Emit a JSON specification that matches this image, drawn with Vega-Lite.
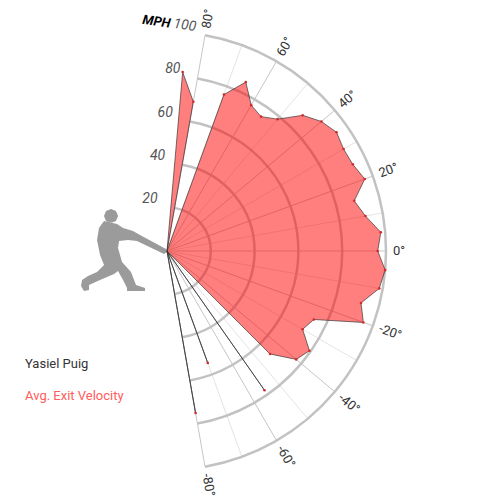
{
  "$schema": "https://vega.github.io/schema/vega-lite/v6.json",
  "width": 500,
  "height": 500,
  "autosize": {"type": "none"},
  "padding": 0,
  "config": {"view": {"stroke": null}, "font": "Roboto"},
  "datasets": {
    "ev": [
      {"deg": 90, "mph": 0}, {"deg": 85, "mph": 82}, {"deg": 80, "mph": 69.2},
      {"deg": 75, "mph": 0}, {"deg": 70, "mph": 76}, {"deg": 65, "mph": 85.1},
      {"deg": 60, "mph": 76.9}, {"deg": 55, "mph": 74.9}, {"deg": 50, "mph": 78.6},
      {"deg": 45, "mph": 87.6}, {"deg": 40, "mph": 92}, {"deg": 35, "mph": 94.5},
      {"deg": 30, "mph": 93.1}, {"deg": 25, "mph": 93.6}, {"deg": 20, "mph": 96.1},
      {"deg": 15, "mph": 88.5}, {"deg": 10, "mph": 92}, {"deg": 5, "mph": 98},
      {"deg": 0, "mph": 96.2}, {"deg": -5, "mph": 100}, {"deg": -10, "mph": 98.4},
      {"deg": -15, "mph": 91.7}, {"deg": -20, "mph": 95.4}, {"deg": -25, "mph": 74},
      {"deg": -30, "mph": 71.5}, {"deg": -35, "mph": 79.4}, {"deg": -40, "mph": 77},
      {"deg": -45, "mph": 66.5}, {"deg": -50, "mph": 0}, {"deg": -55, "mph": 77.6},
      {"deg": -60, "mph": 0}, {"deg": -65, "mph": 0}, {"deg": -70, "mph": 54.4},
      {"deg": -75, "mph": 0}, {"deg": -80, "mph": 75.1}, {"deg": -85, "mph": 0},
      {"deg": -90, "mph": 0}
    ],
    "rings": [{"mph": 20}, {"mph": 40}, {"mph": 60}, {"mph": 80}, {"mph": 100}],
    "spokes": [
      {"deg": -80}, {"deg": -70}, {"deg": -60}, {"deg": -50}, {"deg": -40},
      {"deg": -30}, {"deg": -20}, {"deg": -10}, {"deg": 0}, {"deg": 10},
      {"deg": 20}, {"deg": 30}, {"deg": 40}, {"deg": 50}, {"deg": 60},
      {"deg": 70}, {"deg": 80}
    ]
  },
  "encoding": {
    "x": {"field": "x", "type": "quantitative", "scale": {"domain": [-76.26, 152.05], "nice": false, "zero": false}, "axis": null},
    "y": {"field": "y", "type": "quantitative", "scale": {"domain": [-113.7, 114.61], "nice": false, "zero": false}, "axis": null}
  },
  "layer": [
    {
      "data": {"values": [{"who": "batter"}]},
      "transform": [
        {"calculate": "-19.86", "as": "x"},
        {"calculate": "0.91", "as": "y"}
      ],
      "mark": {
        "type": "point", "filled": true, "size": 7744, "color": "#9b9b9b", "opacity": 1,
        "shape": "M-0.443,-0.636 L-0.557,-0.477 L-0.602,-0.205 L-0.534,0.136 L-0.443,0.364 L-0.602,0.523 L-0.807,0.614 L-0.943,0.705 L-0.966,0.841 L-0.898,0.955 L-0.784,0.932 L-0.784,0.818 L-0.534,0.705 L-0.216,0.568 L-0.125,0.5 L-0.011,0.705 L0.08,0.886 L0.08,0.955 L0.489,0.955 L0.489,0.886 L0.284,0.818 L0.17,0.523 L-0.034,0.295 L-0.125,-0.023 L-0.102,-0.182 L0.102,-0.205 L0.307,-0.182 L0.92,0.114 L0.989,0.068 L0.966,0 L0.375,-0.318 L0.216,-0.409 L-0.011,-0.477 L-0.148,-0.568 Z M-0.124,-0.75 L-0.171,-0.637 L-0.284,-0.59 L-0.397,-0.637 L-0.444,-0.75 L-0.397,-0.863 L-0.284,-0.91 L-0.171,-0.863 Z"
      }
    },
    {
      "data": {"name": "spokes"},
      "transform": [
        {"calculate": "0", "as": "x"},
        {"calculate": "0", "as": "y"},
        {"calculate": "100 * cos(datum.deg * PI / 180)", "as": "ex"},
        {"calculate": "100 * sin(datum.deg * PI / 180)", "as": "ey"}
      ],
      "mark": {"type": "rule", "strokeWidth": 1},
      "encoding": {
        "x2": {"field": "ex"},
        "y2": {"field": "ey"},
        "color": {"condition": {"test": "datum.deg % 20 === 0", "value": "#c6c6c6"}, "value": "#e4e4e4"}
      }
    },
    {
      "data": {"name": "rings"},
      "transform": [
        {"calculate": "0", "as": "x"},
        {"calculate": "0", "as": "y"}
      ],
      "mark": {"type": "arc", "filled": false, "theta": 0.17453, "theta2": 2.96706, "stroke": "#c2c2c2", "strokeWidth": 2.5},
      "encoding": {
        "radius": {"field": "mph", "type": "quantitative", "scale": {"type": "linear", "domain": [0, 100], "range": [0, 219], "zero": true}},
        "radius2": {"field": "mph"}
      }
    },
    {
      "data": {"name": "ev"},
      "transform": [
        {"calculate": "datum.mph * cos(datum.deg * PI / 180)", "as": "x"},
        {"calculate": "datum.mph * sin(datum.deg * PI / 180)", "as": "y"}
      ],
      "mark": {"type": "line", "interpolate": "linear-closed", "fill": "#ff0000", "fillOpacity": 0.5, "stroke": "#333333", "strokeOpacity": 0.85, "strokeWidth": 0.8},
      "encoding": {
        "order": {"field": "deg", "type": "quantitative", "sort": "descending"}
      }
    },
    {
      "data": {"name": "ev"},
      "transform": [
        {"filter": "datum.mph > 0"},
        {"calculate": "datum.mph * cos(datum.deg * PI / 180)", "as": "x"},
        {"calculate": "datum.mph * sin(datum.deg * PI / 180)", "as": "y"}
      ],
      "mark": {"type": "point", "filled": true, "size": 7, "opacity": 1},
      "encoding": {
        "color": {
          "datum": "Avg. Exit Velocity",
          "scale": {"range": ["#d42a2a"]},
          "legend": {
            "orient": "none", "legendX": 25, "legendY": 358,
            "title": "Yasiel Puig", "titleFont": "Roboto", "titleFontSize": 13,
            "titleFontWeight": "normal", "titleColor": "#333333", "titlePadding": 18,
            "labelFont": "Roboto", "labelFontSize": 13, "labelColor": "#ff5c5c",
            "labelOffset": -13, "symbolSize": 0, "symbolOpacity": 0, "symbolStrokeWidth": 0
          }
        }
      }
    },
    {
      "data": {"name": "spokes"},
      "transform": [
        {"filter": "datum.deg % 20 === 0"},
        {"calculate": "100 * cos(datum.deg * PI / 180)", "as": "x"},
        {"calculate": "100 * sin(datum.deg * PI / 180)", "as": "y"},
        {"calculate": "datum.deg + '°'", "as": "label"}
      ],
      "mark": {"type": "text", "align": "left", "baseline": "middle", "dx": 7, "fontSize": 13, "color": "#333333"},
      "encoding": {
        "text": {"field": "label"},
        "angle": {"field": "deg", "type": "quantitative", "scale": {"domain": [-90, 90], "range": [90, -90]}, "legend": null}
      }
    },
    {
      "data": {"name": "rings"},
      "transform": [
        {"filter": "datum.mph < 100"},
        {"calculate": "datum.mph * cos(80 * PI / 180)", "as": "x"},
        {"calculate": "datum.mph * sin(80 * PI / 180)", "as": "y"}
      ],
      "mark": {"type": "text", "align": "right", "baseline": "middle", "dx": -17, "dy": -9, "fontSize": 14, "fontStyle": "italic", "color": "#555555"},
      "encoding": {"text": {"field": "mph"}}
    },
    {
      "data": {"name": "rings"},
      "transform": [
        {"filter": "datum.mph == 100"},
        {"calculate": "datum.mph * cos(80 * PI / 180)", "as": "x"},
        {"calculate": "datum.mph * sin(80 * PI / 180)", "as": "y"}
      ],
      "layer": [
        {
          "mark": {"type": "text", "align": "right", "baseline": "middle", "dx": -10, "dy": -7, "angle": 8, "fontSize": 14, "fontStyle": "italic", "color": "#555555"},
          "encoding": {"text": {"field": "mph"}}
        },
        {
          "mark": {"type": "text", "align": "right", "baseline": "middle", "dx": -36, "dy": -6.6, "angle": 8, "fontSize": 13, "fontStyle": "italic", "fontWeight": "bold", "color": "#000000", "text": "MPH"}
        }
      ]
    }
  ]
}
